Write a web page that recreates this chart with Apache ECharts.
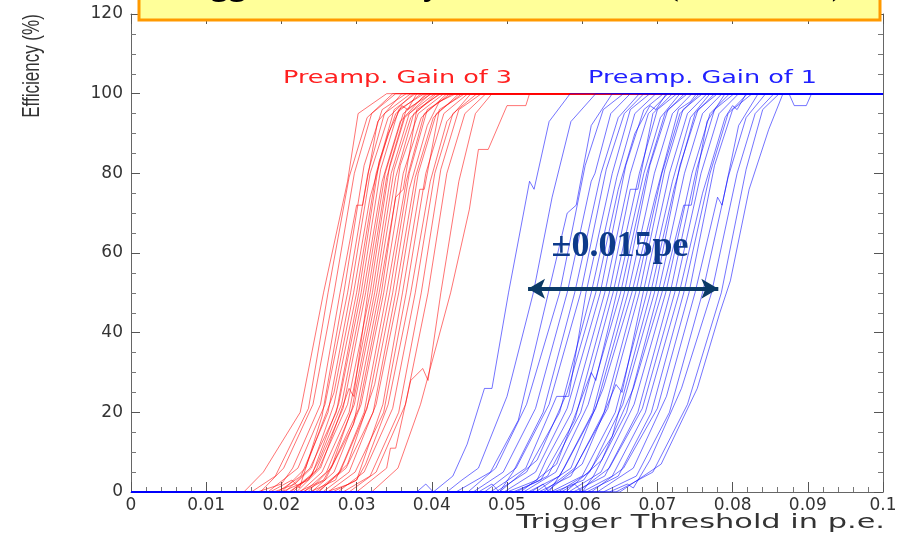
<!DOCTYPE html>
<html>
<head>
<meta charset="utf-8">
<title>Trigger Efficiency vs. Threshold</title>
<script src="https://cdn.jsdelivr.net/npm/echarts@6/dist/echarts.min.js"></script>
<style>
  html, body { margin: 0; padding: 0; background: #fff; }
  #chart { width: 907px; height: 534px; }
</style>
</head>
<body>
<div id="chart"></div>
<script>
// scan range of the threshold (p.e.)
const xStart = 0;
const xEnd = 0.1;

// Preamp. Gain of 3 : one curve per channel, [threshold (p.e.), efficiency (%)]
const gain3Curves = [
  [[0.0150,0],[0.0176,5],[0.0225,20],[0.0256,50],[0.0288,78],[0.0302,95],[0.0340,100]],
  [[0.0160,0],[0.0192,4],[0.0236,21],[0.0262,50],[0.0290,79],[0.0314,94],[0.0348,100]],
  [[0.0172,0],[0.0203,6],[0.0242,22],[0.0270,50],[0.0297,80],[0.0320,95],[0.0352,100]],
  [[0.0168,0],[0.0200,2],[0.0215,6],[0.0252,22],[0.0278,50],[0.0300,72],[0.0308,72],[0.0328,93],[0.0360,100]],
  [[0.0185,0],[0.0214,3],[0.0224,1],[0.0254,19],[0.0283,50],[0.0310,82],[0.0334,96],[0.0366,100]],
  [[0.0182,0],[0.0222,6],[0.0258,22],[0.0288,50],[0.0315,80],[0.0337,95],[0.0372,100]],
  [[0.0195,0],[0.0226,4],[0.0262,20],[0.0292,50],[0.0318,80],[0.0342,94],[0.0375,100]],
  [[0.0200,0],[0.0232,6],[0.0270,25],[0.0296,50],[0.0318,74],[0.0342,90],[0.0360,97],[0.0368,96],[0.0380,100]],
  [[0.0190,0],[0.0218,2],[0.0240,6],[0.0270,22],[0.0300,50],[0.0326,80],[0.0350,96],[0.0378,100]],
  [[0.0205,0],[0.0238,6],[0.0273,20],[0.0303,50],[0.0330,83],[0.0352,95],[0.0386,100]],
  [[0.0210,0],[0.0240,4],[0.0276,22],[0.0306,50],[0.0332,81],[0.0356,96],[0.0390,100]],
  [[0.0200,0],[0.0236,3],[0.0250,8],[0.0280,22],[0.0309,50],[0.0334,78],[0.0358,93],[0.0392,100]],
  [[0.0215,0],[0.0245,5],[0.0282,21],[0.0312,50],[0.0338,80],[0.0362,95],[0.0395,100]],
  [[0.0220,0],[0.0252,6],[0.0290,26],[0.0296,24],[0.0315,50],[0.0340,79],[0.0364,94],[0.0398,100]],
  [[0.0212,0],[0.0250,6],[0.0288,22],[0.0318,50],[0.0344,82],[0.0366,96],[0.0400,100]],
  [[0.0225,0],[0.0254,5],[0.0290,20],[0.0321,50],[0.0346,80],[0.0370,95],[0.0404,100]],
  [[0.0222,0],[0.0256,3],[0.0268,7],[0.0294,21],[0.0324,50],[0.0350,81],[0.0372,94],[0.0406,100]],
  [[0.0230,0],[0.0260,5],[0.0297,22],[0.0327,50],[0.0352,79],[0.0376,95],[0.0410,100]],
  [[0.0228,0],[0.0258,3],[0.0296,17],[0.0330,50],[0.0352,74],[0.0362,76],[0.0380,96],[0.0412,100]],
  [[0.0235,0],[0.0266,6],[0.0303,21],[0.0333,50],[0.0358,82],[0.0382,95],[0.0416,100]],
  [[0.0240,0],[0.0270,5],[0.0306,22],[0.0336,50],[0.0362,80],[0.0386,94],[0.0420,100]],
  [[0.0238,0],[0.0272,3],[0.0284,8],[0.0310,20],[0.0340,50],[0.0366,78],[0.0390,95],[0.0424,100]],
  [[0.0245,0],[0.0278,5],[0.0314,21],[0.0344,50],[0.0370,80],[0.0394,96],[0.0428,100]],
  [[0.0250,0],[0.0288,7],[0.0324,27],[0.0348,50],[0.0370,76],[0.0394,92],[0.0410,98],[0.0432,100]],
  [[0.0248,0],[0.0286,6],[0.0322,20],[0.0352,50],[0.0378,79],[0.0402,94],[0.0436,100]],
  [[0.0255,0],[0.0290,5],[0.0326,22],[0.0356,50],[0.0382,80],[0.0406,95],[0.0440,100]],
  [[0.0260,0],[0.0290,2],[0.0300,3],[0.0335,22],[0.0361,50],[0.0384,76],[0.0390,76],[0.0410,96],[0.0444,100]],
  [[0.0262,0],[0.0298,5],[0.0336,20],[0.0366,50],[0.0392,80],[0.0416,95],[0.0448,100]],
  [[0.0268,0],[0.0300,3],[0.0312,7],[0.0342,22],[0.0372,50],[0.0398,78],[0.0420,93],[0.0452,100]],
  [[0.0275,0],[0.0310,5],[0.0348,21],[0.0378,50],[0.0404,80],[0.0428,95],[0.0460,100]],
  [[0.0282,0],[0.0318,4],[0.0356,20],[0.0386,50],[0.0412,81],[0.0436,96],[0.0466,100]],
  [[0.0290,0],[0.0326,5],[0.0365,22],[0.0395,50],[0.0420,80],[0.0444,95],[0.0472,100]],
  [[0.0300,0],[0.0340,6],[0.0345,11],[0.0352,11],[0.0372,28],[0.0388,31],[0.0395,28],[0.0412,50],[0.0436,78],[0.0458,95],[0.0480,100]],
  [[0.0320,0],[0.0355,6],[0.0385,22],[0.0425,50],[0.0450,71],[0.0462,86],[0.0475,86],[0.0500,97],[0.0525,97],[0.0530,100]]
];

// Preamp. Gain of 1
const gain1Curves = [
  [[0.0380,0],[0.0392,2],[0.0402,0],[0.0428,4],[0.0447,12],[0.0470,26],[0.0480,26],[0.0502,50],[0.0530,78],[0.0536,76],[0.0556,93],[0.0584,100]],
  [[0.0420,0],[0.0440,3],[0.0462,6],[0.0500,24],[0.0535,50],[0.0560,74],[0.0585,93],[0.0618,100]],
  [[0.0432,0],[0.0478,5],[0.0515,18],[0.0555,50],[0.0580,70],[0.0592,72],[0.0612,92],[0.0640,100]],
  [[0.0448,0],[0.0485,6],[0.0526,22],[0.0570,50],[0.0604,82],[0.0628,96],[0.0655,100]],
  [[0.0455,0],[0.0495,5],[0.0538,21],[0.0580,50],[0.0612,78],[0.0617,80],[0.0638,95],[0.0664,100]],
  [[0.0462,0],[0.0480,2],[0.0490,0],[0.0508,5],[0.0548,20],[0.0590,50],[0.0625,80],[0.0648,94],[0.0676,100]],
  [[0.0470,0],[0.0512,6],[0.0556,22],[0.0598,50],[0.0632,81],[0.0656,95],[0.0682,100]],
  [[0.0478,0],[0.0525,6],[0.0566,24],[0.0582,24],[0.0605,50],[0.0640,80],[0.0664,96],[0.0690,100]],
  [[0.0485,0],[0.0526,5],[0.0570,20],[0.0612,50],[0.0646,79],[0.0670,95],[0.0698,100]],
  [[0.0490,0],[0.0540,8],[0.0580,25],[0.0618,50],[0.0648,76],[0.0670,90],[0.0690,97],[0.0698,96],[0.0712,100]],
  [[0.0496,0],[0.0538,5],[0.0580,21],[0.0624,50],[0.0658,82],[0.0682,96],[0.0708,100]],
  [[0.0500,0],[0.0540,3],[0.0552,8],[0.0586,20],[0.0630,50],[0.0664,80],[0.0688,95],[0.0714,100]],
  [[0.0508,0],[0.0545,3],[0.0590,18],[0.0636,50],[0.0664,76],[0.0674,76],[0.0694,95],[0.0720,100]],
  [[0.0512,0],[0.0554,4],[0.0598,20],[0.0641,50],[0.0676,80],[0.0700,96],[0.0726,100]],
  [[0.0518,0],[0.0566,7],[0.0612,30],[0.0618,28],[0.0646,50],[0.0682,80],[0.0704,94],[0.0730,100]],
  [[0.0522,0],[0.0565,5],[0.0608,22],[0.0651,50],[0.0686,80],[0.0710,95],[0.0736,100]],
  [[0.0528,0],[0.0570,4],[0.0614,20],[0.0656,50],[0.0690,82],[0.0714,96],[0.0740,100]],
  [[0.0532,0],[0.0548,2],[0.0556,0],[0.0576,6],[0.0618,21],[0.0661,50],[0.0696,80],[0.0720,95],[0.0746,100]],
  [[0.0538,0],[0.0585,6],[0.0628,26],[0.0666,50],[0.0697,74],[0.0728,96],[0.0736,97],[0.0744,98],[0.0752,100]],
  [[0.0542,0],[0.0585,4],[0.0629,20],[0.0671,50],[0.0706,80],[0.0730,95],[0.0756,100]],
  [[0.0548,0],[0.0590,6],[0.0634,21],[0.0676,50],[0.0710,81],[0.0734,96],[0.0760,100]],
  [[0.0552,0],[0.0600,7],[0.0645,27],[0.0653,25],[0.0681,50],[0.0716,80],[0.0740,95],[0.0766,100]],
  [[0.0558,0],[0.0600,4],[0.0644,20],[0.0686,50],[0.0720,78],[0.0744,94],[0.0770,100]],
  [[0.0562,0],[0.0602,3],[0.0640,14],[0.0691,50],[0.0722,76],[0.0750,95],[0.0776,100]],
  [[0.0568,0],[0.0610,5],[0.0654,22],[0.0696,50],[0.0730,82],[0.0754,96],[0.0780,100]],
  [[0.0572,0],[0.0590,2],[0.0600,0],[0.0615,4],[0.0659,20],[0.0701,50],[0.0736,80],[0.0760,95],[0.0786,100]],
  [[0.0578,0],[0.0626,8],[0.0668,26],[0.0706,50],[0.0735,72],[0.0745,72],[0.0766,93],[0.0790,100]],
  [[0.0582,0],[0.0625,5],[0.0669,22],[0.0711,50],[0.0746,80],[0.0770,95],[0.0796,100]],
  [[0.0588,0],[0.0630,4],[0.0674,20],[0.0717,50],[0.0752,81],[0.0776,96],[0.0802,100]],
  [[0.0594,0],[0.0636,6],[0.0680,21],[0.0723,50],[0.0758,80],[0.0782,95],[0.0808,100]],
  [[0.0600,0],[0.0640,4],[0.0684,20],[0.0729,50],[0.0760,75],[0.0790,94],[0.0800,97],[0.0806,96],[0.0818,100]],
  [[0.0606,0],[0.0648,4],[0.0692,20],[0.0735,50],[0.0770,80],[0.0794,95],[0.0820,100]],
  [[0.0612,0],[0.0655,6],[0.0700,21],[0.0742,50],[0.0776,82],[0.0800,96],[0.0826,100]],
  [[0.0620,0],[0.0668,6],[0.0712,24],[0.0750,50],[0.0780,74],[0.0786,72],[0.0808,92],[0.0834,100]],
  [[0.0628,0],[0.0672,4],[0.0716,20],[0.0760,50],[0.0794,79],[0.0818,94],[0.0844,100]],
  [[0.0636,0],[0.0660,2],[0.0668,1],[0.0690,8],[0.0732,26],[0.0772,50],[0.0806,80],[0.0830,95],[0.0855,100]],
  [[0.0645,0],[0.0694,5],[0.0740,22],[0.0785,50],[0.0818,81],[0.0840,96],[0.0862,100]],
  [[0.0650,0],[0.0705,7],[0.0753,26],[0.0783,45],[0.0797,53],[0.0822,76],[0.0848,91],[0.0867,100],[0.0875,100],[0.0882,97],[0.0898,97],[0.0905,100]]
];

// spread annotation (threshold p.e., efficiency %)
const spreadFrom = [0.0528, 51];
const spreadTo = [0.0781, 51];
const spreadText = '±0.015pe';

const titleText = 'Trigger Efficiency vs. Threshold (all boards)';
const gain3Label = 'Preamp. Gain of 3';
const gain1Label = 'Preamp. Gain of 1';
const xName = 'Trigger Threshold in p.e.';
const yName = 'Efficiency (%)';

const chart = echarts.init(document.getElementById('chart'));

const makeCurve = (points, color, name) => ({
  name: name,
  type: 'line',
  data: [[xStart, 0], ...points, [xEnd, 100]],
  showSymbol: false,
  silent: true,
  lineStyle: { color: color, width: 1, opacity: 0.55 },
  xAxisIndex: 0,
  yAxisIndex: 0
});

const series = [
  ...gain3Curves.map((c) => makeCurve(c, '#ff0000', gain3Label)),
  ...gain1Curves.map((c) => makeCurve(c, '#0000ff', gain1Label)),
  {
    type: 'line',
    data: [],
    silent: true,
    markLine: {
      silent: true,
      symbol: ['arrow', 'arrow'],
      symbolSize: [15, 17],
      label: { show: false },
      lineStyle: { color: '#0b3a66', width: 4, type: 'solid' },
      data: [[{ coord: spreadFrom }, { coord: spreadTo }]]
    }
  }
];

// axes sit on the frame edges, ticks point into the plot (ROOT style)
const axisLineStyle = { show: true, onZero: false, lineStyle: { color: '#666', width: 1 } };
const tickStyle = { show: true, inside: true, length: 10, lineStyle: { color: '#555', width: 1 } };
const minorTickStyle = { show: true, length: 5, lineStyle: { color: '#777', width: 1 } };
const labelFont = { fontFamily: 'DejaVu Sans', fontSize: 17, color: '#333' };

const option = {
  animation: false,
  backgroundColor: '#fff',
  grid: { left: 131, right: 24, top: 14, bottom: 42 },
  xAxis: [
    {
      type: 'value', min: 0, max: 0.1, interval: 0.01,
      axisLine: axisLineStyle,
      axisTick: tickStyle,
      minorTick: { ...minorTickStyle, splitNumber: 5 },
      splitLine: { show: false },
      axisLabel: {
        ...labelFont, margin: 5,
        formatter: (v) => (v === 0 ? '0' : String(+v.toFixed(2)))
      }
    },
    {
      type: 'value', min: 0, max: 0.1, interval: 0.01, position: 'top',
      axisLine: axisLineStyle,
      axisTick: tickStyle,
      minorTick: { ...minorTickStyle, splitNumber: 5 },
      splitLine: { show: false },
      axisLabel: { show: false }
    }
  ],
  yAxis: [
    {
      type: 'value', min: 0, max: 120, interval: 20,
      axisLine: axisLineStyle,
      axisTick: { ...tickStyle, length: 9 },
      minorTick: { ...minorTickStyle, splitNumber: 4 },
      splitLine: { show: false },
      axisLabel: { ...labelFont, margin: 8 }
    },
    {
      type: 'value', min: 0, max: 120, interval: 20, position: 'right',
      axisLine: axisLineStyle,
      axisTick: { ...tickStyle, length: 9 },
      minorTick: { ...minorTickStyle, splitNumber: 4 },
      splitLine: { show: false },
      axisLabel: { show: false }
    }
  ],
  series: series,
  graphic: [
    {
      type: 'text', x: 32, y: 66, rotation: Math.PI / 2, scaleY: 1.45,
      style: { text: yName, font: '17px "Liberation Sans"', fill: '#333', align: 'center', verticalAlign: 'middle' }
    },
    {
      type: 'text', x: 885, y: 523, scaleX: 1.52,
      style: { text: xName, font: '20px "DejaVu Sans"', fill: '#333', align: 'right', verticalAlign: 'middle' }
    },
    {
      type: 'text', x: 283, y: 79, scaleX: 1.5,
      style: { text: gain3Label, font: '17px "DejaVu Sans"', fill: '#ff2020', verticalAlign: 'middle' }
    },
    {
      type: 'text', x: 588, y: 79, scaleX: 1.5,
      style: { text: gain1Label, font: '17px "DejaVu Sans"', fill: '#2020ff', verticalAlign: 'middle' }
    },
    {
      type: 'text', x: 620, y: 247, z: 100,
      style: { text: spreadText, font: 'bold 36px "Liberation Serif"', fill: '#0d3a8a', align: 'center', verticalAlign: 'middle' }
    },
    {
      type: 'rect', z: 100,
      shape: { x: 139, y: -10, width: 741, height: 30 },
      style: { fill: '#ffff99', stroke: '#ff9900', lineWidth: 3 }
    },
    {
      type: 'text', x: 163, y: -15, z: 101,
      style: { text: titleText, font: 'bold 36px "Liberation Serif"', fill: '#000', verticalAlign: 'middle' }
    }
  ]
};

chart.setOption(option);
</script>
</body>
</html>
